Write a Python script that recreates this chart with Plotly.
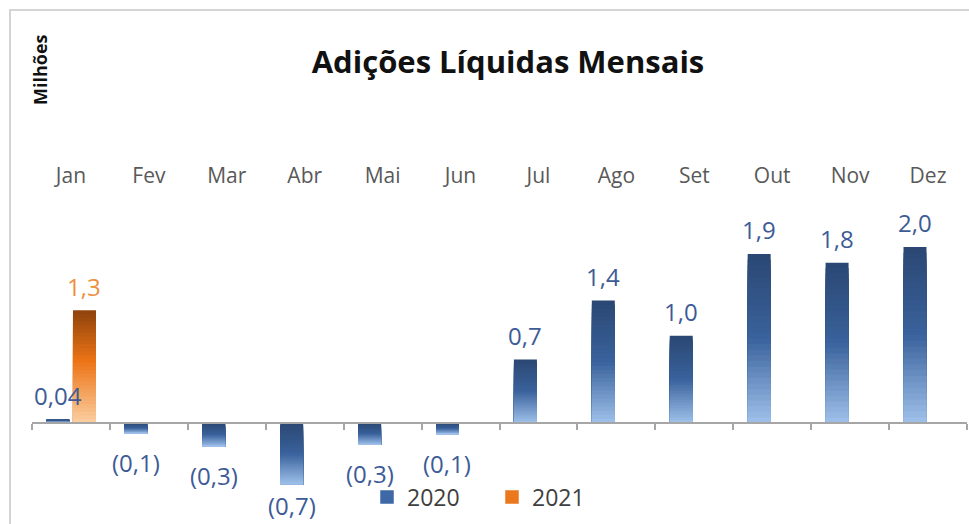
import plotly.graph_objects as go

# ---------------- data ----------------
months = ["Jan", "Fev", "Mar", "Abr", "Mai", "Jun", "Jul", "Ago", "Set", "Out", "Nov", "Dez"]
values_2020 = [0.04, -0.12, -0.27, -0.70, -0.25, -0.13, 0.72, 1.39, 0.99, 1.92, 1.82, 2.00]
labels_2020 = ["0,04", "(0,1)", "(0,3)", "(0,7)", "(0,3)", "(0,1)", "0,7", "1,4", "1,0", "1,9", "1,8", "2,0"]
months_2021 = ["Jan"]
values_2021 = [1.28]
labels_2021 = ["1,3"]

title_text = "Adições Líquidas Mensais"
unit_text = "Milhões"

# ---------------- style ----------------
FONT = "Open Sans"
W, H = 969, 524
ML, MR, MT, MB = 32, 2, 188, 14
Y_RANGE = [-0.99, 2.67]
BAR_W = 0.295
OFF_2020 = -0.315
OFF_2021 = 0.026
LABEL_SIZE = 24

blue_stops = [(0.0, (43, 72, 116)), (0.5, (58, 98, 156)), (1.0, (156, 190, 232))]
orange_stops = [(0.0, (146, 68, 12)), (0.45, (236, 116, 22)), (1.0, (251, 204, 158))]

plot_w = W - ML - MR
plot_h = H - MT - MB
px_per_unit = plot_h / (Y_RANGE[1] - Y_RANGE[0])


def px_to_paper_x(px):
    return (px - ML) / plot_w


def px_to_paper_y(py):
    return (H - MB - py) / plot_h


def value_to_px(v):
    return MT + (Y_RANGE[1] - v) * px_per_unit


def lerp(stops, t):
    for (t0, c0), (t1, c1) in zip(stops, stops[1:]):
        if t0 <= t <= t1:
            f = (t - t0) / (t1 - t0)
            return "rgb(%d,%d,%d)" % tuple(round(a + (b - a) * f) for a, b in zip(c0, c1))
    return "rgb(%d,%d,%d)" % stops[-1][1]


fig = go.Figure()


def add_gradient_bars(cats, vals, stops, offset, name, legend_color):
    # layered bands: each band spans from its top edge down to the bar's far end,
    # drawn dark-to-light so lighter bands cover the lower part (gradient, no seams)
    n = 30
    for k in range(n):
        t = k / (n - 1)
        base = [min(0, v) for v in vals]
        h = [abs(v) * (1 - k / n) for v in vals]
        fig.add_trace(go.Bar(
            x=cats, y=h, base=base, offset=offset, width=BAR_W,
            marker=dict(color=lerp(stops, t), line=dict(width=0)),
            name=name, legendgroup=name, showlegend=False, hoverinfo="skip",
        ))
    fig.add_trace(go.Bar(
        x=[cats[0]], y=[None], offset=offset, width=BAR_W,
        marker=dict(color=legend_color, line=dict(width=1.5, color=legend_color)),
        name=name, legendgroup=name, showlegend=True, hoverinfo="skip",
    ))


add_gradient_bars(months, values_2020, blue_stops, OFF_2020, "2020", "rgb(62,104,166)")
add_gradient_bars(months_2021, values_2021, orange_stops, OFF_2021, "2021", "rgb(236,120,30)")

# invisible trace for the zero axis with boundary ticks
fig.add_trace(go.Scatter(x=months, y=[None] * len(months), xaxis="x2", yaxis="y",
                         showlegend=False, hoverinfo="skip", mode="markers"))


def label_shift(v):
    if v >= 0:
        return 24
    end_px = value_to_px(v)
    centre = min(end_px + 29, H - 19)
    return -(centre - end_px)


annotations = []
for i, (v, lab) in enumerate(zip(values_2020, labels_2020)):
    annotations.append(dict(
        x=i + OFF_2020 + BAR_W / 2, y=v, xref="x", yref="y", text=lab, showarrow=False,
        yanchor="middle", yshift=label_shift(v),
        font=dict(family=FONT, size=LABEL_SIZE, color="#3d5b96"),
    ))
for c, v, lab in zip(months_2021, values_2021, labels_2021):
    i = months.index(c)
    annotations.append(dict(
        x=i + OFF_2021 + BAR_W / 2, y=v, xref="x", yref="y", text=lab, showarrow=False,
        yanchor="middle", yshift=label_shift(v),
        font=dict(family=FONT, size=LABEL_SIZE, color="#ee9040"),
    ))

annotations.append(dict(
    x=px_to_paper_x(40), y=px_to_paper_y(70), xref="paper", yref="paper",
    text="<b>" + unit_text + "</b>", textangle=-90, showarrow=False,
    xanchor="center", yanchor="middle",
    font=dict(family=FONT, size=18, color="#111111"),
))

zero_pos = (0 - Y_RANGE[0]) / (Y_RANGE[1] - Y_RANGE[0])

fig.update_layout(
    width=W, height=H,
    margin=dict(l=ML, r=MR, t=MT, b=MB),
    paper_bgcolor="white", plot_bgcolor="white",
    barmode="overlay",
    title=dict(text="<b>" + title_text + "</b>", x=508 / W, xref="container", xanchor="center",
               y=1 - 62 / H, yref="container", yanchor="middle",
               font=dict(family=FONT, size=31, color="#111111")),
    xaxis=dict(type="category", categoryorder="array", categoryarray=months,
               range=[-0.5, len(months) - 0.5], side="top", showline=False, showgrid=False,
               ticks="", zeroline=False,
               tickfont=dict(family=FONT, size=21, color="#595959")),
    xaxis2=dict(type="category", categoryorder="array", categoryarray=months,
                range=[-0.5, len(months) - 0.5], overlaying="x", anchor="free", position=zero_pos,
                side="bottom", showline=True, linecolor="#a6a6a6", linewidth=2,
                ticks="outside", tickson="boundaries", ticklen=6, tickwidth=2, tickcolor="#a6a6a6",
                showticklabels=False, showgrid=False, zeroline=False),
    yaxis=dict(range=Y_RANGE, domain=[0, 1], visible=False, showgrid=False, zeroline=False),
    legend=dict(orientation="h", x=px_to_paper_x(367), xanchor="left",
                y=px_to_paper_y(497), yanchor="middle", bgcolor="rgba(0,0,0,0)",
                font=dict(family=FONT, size=23, color="#404040"), entrywidth=80),
    annotations=annotations,
    shapes=[dict(type="rect", xref="paper", yref="paper",
                 x0=px_to_paper_x(10), x1=px_to_paper_x(980),
                 y0=px_to_paper_y(540), y1=px_to_paper_y(10),
                 line=dict(color="#d4d4d4", width=2), fillcolor="rgba(0,0,0,0)", layer="below")],
    showlegend=True,
)

fig.write_html("out.html", config={"displayModeBar": False},
               post_script="document.body.style.margin='0';document.body.style.overflow='hidden';")
